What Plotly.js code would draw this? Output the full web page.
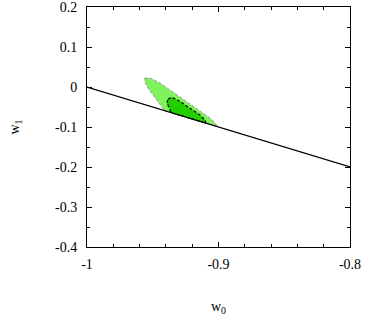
<!DOCTYPE html>
<html>
<head>
<meta charset="utf-8">
<script src="https://cdn.plot.ly/plotly-3.0.1.min.js"></script>
<style>body{margin:0;background:#fff}</style>
</head>
<body>
<div id="plot" style="width:380px;height:320px"></div>
<script>
// outer (light) region outline
var outerW0 = [-0.956, -0.952, -0.9445, -0.937, -0.929, -0.9217, -0.914, -0.9065, -0.902, -0.901, -0.941, -0.9445, -0.9498, -0.9536, -0.956, -0.956];
var outerW1 = [0.0225, 0.0225, 0.010, -0.0075, -0.025, -0.0425, -0.06, -0.0775, -0.0925, -0.099, -0.059, -0.0425, -0.02, -0.003, 0.013, 0.0225];

// inner (dark) region outline
var innerW0 = [-0.9384, -0.9354, -0.9293, -0.9217, -0.9141, -0.9103, -0.9095, -0.936, -0.9376, -0.9392, -0.9384];
var innerW1 = [-0.03, -0.026, -0.036, -0.0525, -0.07, -0.0825, -0.0905, -0.064, -0.0525, -0.04, -0.03];

// straight line
var lineW0 = [-1, -0.8];
var lineW1 = [0, -0.2];

var outer = {
  x: outerW0, y: outerW1,
  mode: 'lines', fill: 'toself',
  fillcolor: '#80f25e',
  line: {color: '#999999', width: 1, dash: '3px,2px'},
  hoverinfo: 'skip'
};

var inner = {
  x: innerW0, y: innerW1,
  mode: 'lines', fill: 'toself',
  fillcolor: '#22d000',
  line: {color: '#000000', width: 1.2, dash: '3px,2px'},
  hoverinfo: 'skip'
};

var line = {
  x: lineW0, y: lineW1,
  mode: 'lines',
  line: {color: '#000000', width: 1.2},
  hoverinfo: 'skip'
};

var data = [outer, inner, line];

var fnt = {family: 'Liberation Serif, Times New Roman, serif', size: 14, color: '#000'};

var layout = {
  width: 380, height: 320,
  margin: {l: 87, r: 30, t: 7, b: 73},
  showlegend: false,
  paper_bgcolor: '#fff', plot_bgcolor: '#fff',
  font: fnt,
  xaxis: {
    range: [-1, -0.8],
    tickvals: [-1, -0.9, -0.8],
    ticktext: ['-1', '-0.9', '-0.8'],
    ticks: 'inside', ticklen: 5, tickcolor: '#000',
    minor: {dtick: 0.02, tick0: -1, ticks: 'inside', ticklen: 3, tickcolor: '#000'},
    showgrid: false, zeroline: false,
    showline: true, linecolor: '#000', linewidth: 1, mirror: 'allticks',
    ticklabelstandoff: 4, ticklabeloverflow: 'allow',
    title: {text: 'w<sub>0</sub>', font: fnt, standoff: 30}
  },
  yaxis: {
    range: [-0.4, 0.2],
    tickvals: [-0.4, -0.3, -0.2, -0.1, 0, 0.1, 0.2],
    ticktext: ['-0.4', '-0.3', '-0.2', '-0.1', '0', '0.1', '0.2'],
    ticks: 'inside', ticklen: 5, tickcolor: '#000',
    minor: {dtick: 0.05, tick0: 0, ticks: 'inside', ticklen: 3, tickcolor: '#000'},
    showgrid: false, zeroline: false,
    showline: true, linecolor: '#000', linewidth: 1, mirror: 'allticks',
    ticklabelstandoff: 6, ticklabeloverflow: 'allow',
    title: {text: 'w<sub>1</sub>', font: fnt, standoff: 32}
  }
};

Plotly.newPlot('plot', data, layout, {staticPlot: true, displayModeBar: false});
</script>
</body>
</html>
